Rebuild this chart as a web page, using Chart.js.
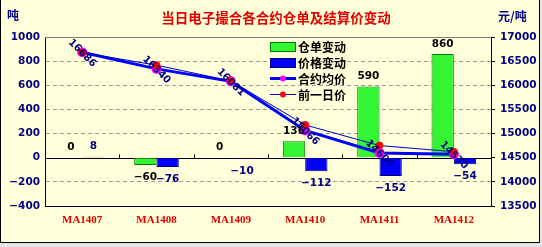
<!DOCTYPE html>
<html>
<head>
<meta charset="utf-8">
<script src="https://cdn.jsdelivr.net/npm/chart.js@4/dist/chart.umd.min.js"></script>
<style>
  html, body { margin: 0; padding: 0; background: #e4e4e4; }
  #wrap { width: 542px; height: 247px; }
</style>
</head>
<body>
<div id="wrap"><canvas id="warrantChart" width="542" height="247"></canvas></div>
<script>
// contracts
var contracts = ['MA1407', 'MA1408', 'MA1409', 'MA1410', 'MA1411', 'MA1412'];
// left axis (吨)
var warrantChange = [0, -60, 0, 136, 590, 860];
var priceChange = [8, -76, -10, -112, -152, -54];
// right axis (元/吨)
var avgPrice = [16686, 16340, 16081, 15066, 14600, 14570];
var prevPrice = [16678, 16416, 16091, 15178, 14752, 14624];
var leftTicks = [-400, -200, 0, 200, 400, 600, 800, 1000];
var rightTicks = [13500, 14000, 14500, 15000, 15500, 16000, 16500, 17000];

var tickFont = { family: 'DejaVu Sans', size: 10.5, weight: 'bold' };
var navy = '#000080';

// background, frame, title, units
var framePlugin = {
  id: 'frame',
  beforeDraw: function (chart) {
    var c = chart.ctx;
    c.save();
    c.fillStyle = '#e4e4e4';
    c.fillRect(0, 0, 542, 247);
    c.fillStyle = '#FFFFD9';
    c.fillRect(0, 0, 539, 242);
    c.strokeStyle = '#000';
    c.lineWidth = 1;
    c.beginPath();
    c.moveTo(0.5, 0);
    c.lineTo(0.5, 242.5);
    c.lineTo(539.5, 242.5);
    c.lineTo(539.5, 0);
    c.stroke();
    c.restore();
  },
  afterDraw: function (chart) {
    var c = chart.ctx;
    c.save();
    c.textBaseline = 'middle';
    c.font = 'bold 13.5px "Noto Sans CJK SC"';
    c.fillStyle = '#E00000';
    c.textAlign = 'center';
    c.fillText('当日电子撮合各合约仓单及结算价变动', 276, 18);
    c.font = 'bold 12px "Noto Sans CJK SC"';
    c.fillStyle = navy;
    c.textAlign = 'left';
    c.fillText('吨', 7, 15);
    c.fillText('元/吨', 498, 16);
    c.restore();
  }
};

// zero line, its ticks, the plot top line
var axisPlugin = {
  id: 'axisLines',
  beforeDatasetsDraw: function (chart) {
    var c = chart.ctx, a = chart.chartArea;
    var y0 = Math.round(chart.scales.y.getPixelForValue(0)) + 0.5;
    c.save();
    c.strokeStyle = '#808080';
    c.beginPath();
    c.moveTo(a.left, a.top + 0.5);
    c.lineTo(a.right, a.top + 0.5);
    c.stroke();
    c.strokeStyle = '#000';
    c.beginPath();
    c.moveTo(a.left, y0);
    c.lineTo(a.right, y0);
    var xs = chart.scales.x;
    for (var i = 1; i < contracts.length; i++) {
      var x = Math.round((xs.getPixelForValue(i - 1) + xs.getPixelForValue(i)) / 2) + 0.5;
      c.moveTo(x, y0 - 4);
      c.lineTo(x, y0);
    }
    c.stroke();
    c.restore();
  }
};

// value labels on bars and on the average price line, plus the legend
var labelPlugin = {
  id: 'labels',
  afterDatasetsDraw: function (chart) {
    var c = chart.ctx;
    c.save();
    c.font = 'bold 10.5px "DejaVu Sans"';
    c.textAlign = 'center';
    c.textBaseline = 'middle';
    [2, 3].forEach(function (di) {
      var ds = chart.data.datasets[di];
      chart.getDatasetMeta(di).data.forEach(function (el, i) {
        var v = ds.data[i];
        c.fillStyle = di === 2 ? '#000' : navy;
        var y = v >= 0 ? Math.min(el.y, el.base) - 10 : el.y + 12;
        c.fillText(String(v).replace('-', '\u2212'), el.x, y);
      });
    });
    // rotated price labels
    c.font = 'bold 10px "DejaVu Sans"';
    c.fillStyle = navy;
    chart.getDatasetMeta(0).data.forEach(function (el, i) {
      c.save();
      c.translate(el.x, el.y + 1);
      c.rotate(Math.PI / 4);
      c.fillText(String(avgPrice[i]), 0, 0);
      c.restore();
    });

    // legend
    var rows = [46, 62, 78, 94];
    var order = [2, 3, 0, 1];
    c.font = 'bold 12px "Noto Sans CJK SC"';
    c.textAlign = 'left';
    order.forEach(function (di, k) {
      var ds = chart.data.datasets[di];
      var y = rows[k];
      if (ds.type === 'line') {
        c.strokeStyle = ds.borderColor;
        c.lineWidth = ds.borderWidth;
        c.beginPath();
        c.moveTo(270, y + 0.5);
        c.lineTo(296, y + 0.5);
        c.stroke();
        c.fillStyle = ds.pointBackgroundColor;
        c.beginPath();
        c.arc(283, y + 0.5, 3, 0, Math.PI * 2);
        c.fill();
      } else {
        c.fillStyle = ds.backgroundColor;
        c.fillRect(270, y - 4, 25, 9);
        c.strokeStyle = ds.borderColor;
        c.lineWidth = 1;
        c.strokeRect(270.5, y - 3.5, 25, 9);
      }
      c.fillStyle = '#000';
      c.fillText(ds.label, 298, y + 1);
    });
    c.restore();
  }
};

var ctx = document.getElementById('warrantChart').getContext('2d');
new Chart(ctx, {
  type: 'bar',
  data: {
    labels: contracts,
    datasets: [
      {
        type: 'line',
        label: '合约均价',
        data: avgPrice,
        yAxisID: 'y1',
        borderColor: '#0000FF',
        borderWidth: 3,
        pointBackgroundColor: '#FF00FF',
        pointBorderColor: '#FF00FF',
        pointRadius: 3.5,
        order: 1
      },
      {
        type: 'line',
        label: '前一日价',
        data: prevPrice,
        yAxisID: 'y1',
        borderColor: '#0000CC',
        borderWidth: 1,
        pointBackgroundColor: '#FF0000',
        pointBorderColor: '#FF0000',
        pointRadius: 3.5,
        order: 0
      },
      {
        label: '仓单变动',
        data: warrantChange,
        yAxisID: 'y',
        backgroundColor: '#33F533',
        borderColor: '#008000',
        borderWidth: 1,
        categoryPercentage: 0.6,
        barPercentage: 1.0,
        order: 2
      },
      {
        label: '价格变动',
        data: priceChange,
        yAxisID: 'y',
        backgroundColor: '#0000FF',
        borderColor: '#000080',
        borderWidth: 1,
        categoryPercentage: 0.6,
        barPercentage: 1.0,
        order: 3
      }
    ]
  },
  options: {
    responsive: false,
    animation: false,
    layout: { padding: { top: 37, left: 0, right: 0, bottom: 0 } },
    plugins: {
      legend: { display: false },
      tooltip: { enabled: false },
      title: { display: false }
    },
    scales: {
      x: {
        grid: { display: false, drawTicks: false },
        border: { color: '#000', width: 1 },
        ticks: {
          color: '#E00000',
          font: { family: 'Liberation Serif', size: 11, weight: 'bold' },
          padding: 8,
          maxRotation: 0
        },
        afterFit: function (s) { s.height = 41; }
      },
      y: {
        position: 'left',
        min: -400,
        max: 1000,
        afterBuildTicks: function (s) { s.ticks = leftTicks.map(function (v) { return { value: v }; }); },
        grid: {
          drawTicks: false,
          color: function (c) {
            var v = c.tick && c.tick.value;
            return (v === 0 || v === 1000 || v === -400) ? 'rgba(0,0,0,0)' : '#9a9a9a';
          }
        },
        border: { color: '#000', width: 1, dash: [4, 3] },
        ticks: {
          color: navy,
          font: tickFont,
          padding: 5,
          callback: function (v) { return String(v).replace('-', '\u2212'); }
        },
        afterFit: function (s) { s.width = 45; }
      },
      y1: {
        position: 'right',
        min: 13500,
        max: 17000,
        afterBuildTicks: function (s) { s.ticks = rightTicks.map(function (v) { return { value: v }; }); },
        grid: { drawOnChartArea: false, drawTicks: true, tickLength: 4, color: '#000' },
        border: { color: '#000', width: 1 },
        ticks: {
          color: navy,
          font: tickFont,
          padding: 5,
          callback: function (v) { return String(v); }
        },
        afterFit: function (s) { s.width = 51; }
      }
    }
  },
  plugins: [framePlugin, axisPlugin, labelPlugin]
});
</script>
</body>
</html>
